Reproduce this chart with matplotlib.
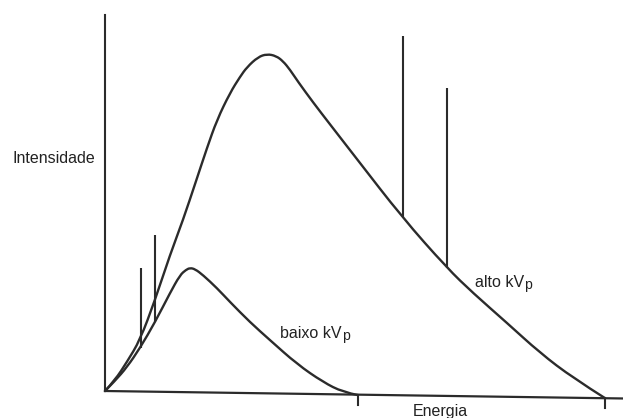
import numpy as np
import matplotlib
matplotlib.use('Agg')
import matplotlib.pyplot as plt
from matplotlib.path import Path
from matplotlib.patches import PathPatch

### Data (energy and intensity in arbitrary units)

# high kVp spectrum (bremsstrahlung)
e_alto = [0, 2, 4.4, 7, 10, 13, 15.6, 18.2, 20.4, 22.4, 25, 27, 28.4, 30.6, 32.4,
          34.2, 35.6, 37, 38.6, 41.6, 45, 50.4, 59.4, 68.4, 73.6, 80.4, 87, 93.6, 100]
i_alto = [0, 2.9, 7.8, 13.6, 24.3, 36.4, 45.7, 56.1, 65, 72.5, 79.7, 84, 86.6, 89.3, 90.1,
          89.6, 88.2, 85.9, 82.7, 77.2, 71.3, 62.0, 46.5, 32.9, 26.2, 18.2, 10.2, 3.5, -1.9]

# low kVp spectrum
e_baixo = [0, 2, 4.4, 7, 10, 13, 15, 16.2, 17, 18, 19.6, 22.4, 25, 29, 33,
           38.4, 43.6, 47.6, 50.6]
i_baixo = [0, 2.7, 6.4, 11.5, 18.4, 26.2, 31, 32.4, 32.9, 32.6, 31, 27.5, 23.8, 18.4, 13.6,
           7.2, 2.4, -0.3, -1.1]

# characteristic lines: energy, bottom, top
lines_e = [7.1, 9.9, 59.5, 68.4]
lines_bottom = [11.5, 18.4, 46.5, 32.9]
lines_top = [32.9, 41.7, 94.9, 81.0]

# energy axis (slightly tilted in the scan) and kVp marks
axis_e = [0, 103.6]
axis_i = [0, -2.0]
kvp_e = [50.6, 100]
kvp_i = [-1.1, -1.9]

c = '#2b2b2b'
tc = '#222222'
lw = 1.7
fs = 11.5

plt.rcParams['font.family'] = ['Liberation Sans', 'DejaVu Sans']


def smooth_curve(ax, x, y, **kw):
    # quadratic bezier through midpoints, drawn by matplotlib
    pts = np.column_stack([x, y])
    verts = [pts[0]]
    codes = [Path.MOVETO]
    for k in range(1, len(pts) - 1):
        mid = (pts[k] + pts[k + 1]) / 2 if k < len(pts) - 2 else pts[k + 1]
        verts += [pts[k], mid]
        codes += [Path.CURVE3, Path.CURVE3]
    patch = PathPatch(Path(verts, codes), fill=False, transform=ax.transData, **kw)
    ax.add_patch(patch)


def label(ax, x, y, main, sub):
    t = ax.text(x, y, main, fontsize=fs, color=tc, va='baseline', ha='left')
    ax.annotate(sub, xy=(1, 0), xycoords=t, xytext=(0.3, -1.2), textcoords='offset points',
                fontsize=fs * 0.88, color=tc, va='bottom', ha='left')


fig = plt.figure(figsize=(6.23, 4.18), dpi=100)
ax = fig.add_axes([105 / 623, 27 / 418, 500 / 623, 374 / 418])
ax.set_xlim(0, 100)
ax.set_ylim(0, 100)
ax.axis('off')

# axes
ax.plot([0, 0], [0, 100.5], color=c, lw=1.5, clip_on=False)
ax.plot(axis_e, axis_i, color=c, lw=1.6, clip_on=False)
for e, i in zip(kvp_e, kvp_i):
    ax.plot([e, e], [i, i - 2.7], color=c, lw=1.5, clip_on=False)

# spectra
smooth_curve(ax, e_alto, i_alto, edgecolor=c, lw=lw, clip_on=False, capstyle='round')
smooth_curve(ax, e_baixo, i_baixo, edgecolor=c, lw=lw, clip_on=False, capstyle='round')
ax.vlines(lines_e, lines_bottom, lines_top, color=c, lw=1.5, clip_on=False)

ax.text(-18.4, 61, 'Intensidade', fontsize=fs, color=tc, va='baseline', ha='left', clip_on=False)
label(ax, 74, 27.8, 'alto kV', 'p')
label(ax, 35, 14.2, 'baixo kV', 'p')
ax.text(61.6, -6.8, 'Energia', fontsize=fs, color=tc, va='baseline', ha='left', clip_on=False)

fig.savefig('out.png', dpi=100)
